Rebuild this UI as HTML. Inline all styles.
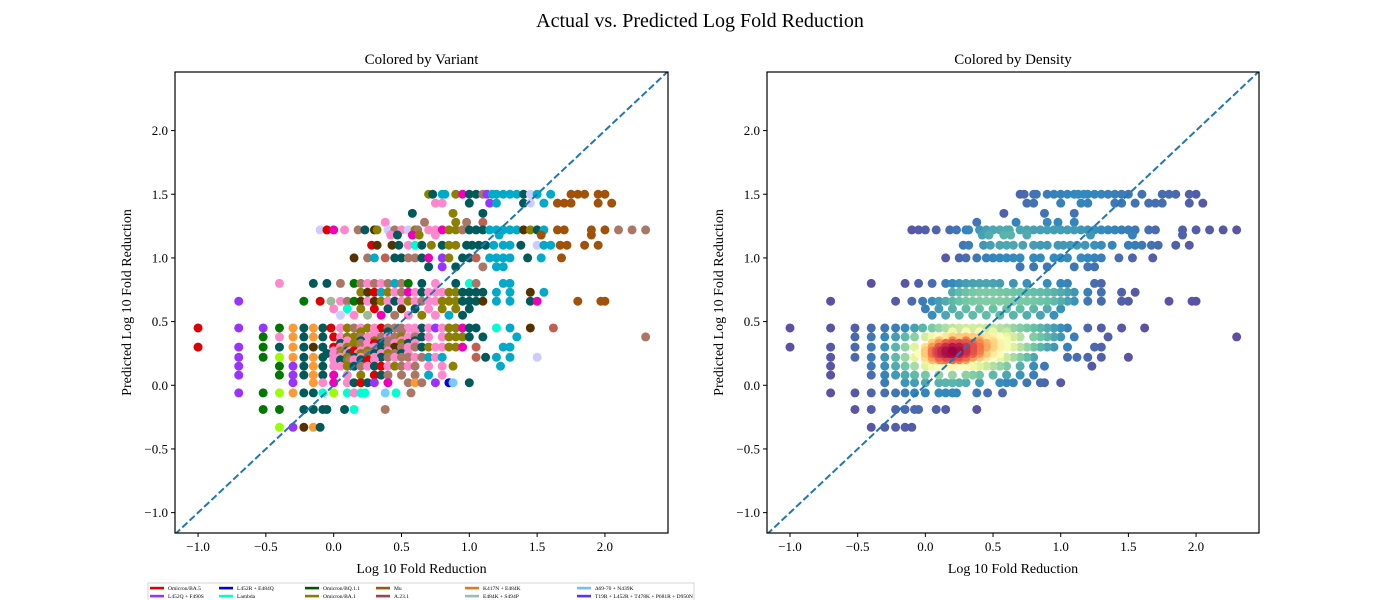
<!DOCTYPE html>
<html><head><meta charset="utf-8">
<style>
html,body{margin:0;padding:0;background:#fff;}
svg{display:block;font-family:"Liberation Serif","DejaVu Serif",serif;}
</style></head>
<body>
<svg id="chart" width="1400" height="600" viewBox="0 0 1400 600" xmlns="http://www.w3.org/2000/svg">
<text x="700" y="27" font-size="20" text-anchor="middle">Actual vs. Predicted Log Fold Reduction</text>
<text x="421.5" y="64" font-size="15" text-anchor="middle">Colored by Variant</text>
<text x="1013" y="64" font-size="15" text-anchor="middle">Colored by Density</text>
<g id="left"></g>
<g id="right"></g>
<g id="legend"></g>
</svg>
<script>
const variantNames = ["Omicron/BA.5","L452Q + F490S","L452R + E484Q","Lambda","Omicron/BQ.1.1","Omicron/BA.1","Mu","A.23.1","K417N + E484K","E484K + S494P","Δ69-70 + N439K","T19R + L452R + T478K + P681R + D950N"];
const legendColors = ["#dd0000","#9933ff","#0000dd","#00ffcc","#005500","#8b7d00","#a0520a","#a04050","#e07820","#99bbbb","#77bbff","#5533ff"];
const palette = ["#dd0000","#9933ff","#0000dd","#00ffd0","#007700","#8b8000","#a0520a","#c06050","#ff9933","#99bb99","#77ccff","#5533ff","#005a5a","#00aac8","#ff88cc","#aa7766","#99ff00","#ee00bb","#553300","#ccccff"];
const xTicks = [-1.0,-0.5,0.0,0.5,1.0,1.5,2.0];
const yTicks = [-1.0,-0.5,0.0,0.5,1.0,1.5,2.0];
const rowY = [1.5,1.43,1.35,1.28,1.22,1.18,1.1,1.0,0.93,0.8,0.73,0.66,0.6,0.55,0.45,0.42,0.38,0.35,0.33,0.3,0.27,0.25,0.22,0.2,0.15,0.08,0.02,-0.06,-0.19,-0.33];
const rowX = [
[0.7,0.73,0.8,0.82,0.9,0.95,1.0,1.05,1.1,1.13,1.17,1.2,1.25,1.3,1.35,1.4,1.45,1.5,1.6,1.75,1.8,1.85,1.95,2.0],
[0.75,0.8,1.0,1.15,1.2,1.4,1.45,1.55,1.65,1.7,1.75,1.95,2.05],
[0.58,0.88,1.1],
[0.38,0.67,0.9,0.98,1.1],
[-0.1,-0.05,0,0.08,0.18,0.23,0.3,0.32,0.4,0.45,0.5,0.55,0.6,0.62,0.7,0.75,0.8,0.85,0.9,0.95,1.0,1.05,1.1,1.15,1.2,1.25,1.3,1.35,1.4,1.45,1.5,1.55,1.65,1.7,1.9,2.0,2.1,2.2,2.3],
[0.42,0.47,0.58,0.63,0.75,1.22,1.53,1.9],
[0.28,0.32,0.43,0.48,0.55,0.6,0.65,0.72,0.8,0.85,0.9,0.98,1.02,1.07,1.12,1.18,1.25,1.3,1.38,1.5,1.55,1.6,1.67,1.72,1.85,1.95],
[0.15,0.25,0.3,0.38,0.45,0.5,0.55,0.6,0.65,0.7,0.8,0.85,0.95,1.0,1.05,1.15,1.2,1.25,1.3,1.43,1.53,1.68],
[0.7,0.8,0.9,1.1,1.2,1.25],
[-0.4,-0.15,-0.05,0.05,0.15,0.2,0.25,0.3,0.35,0.4,0.45,0.5,0.55,0.65,0.75,0.9,1.0,1.05,1.25,1.3],
[0.2,0.25,0.3,0.35,0.4,0.45,0.5,0.55,0.6,0.65,0.7,0.75,0.8,0.85,0.9,0.95,1.0,1.05,1.1,1.2,1.3,1.45,1.55],
[-0.7,-0.22,-0.1,-0.02,0.05,0.1,0.15,0.2,0.25,0.3,0.35,0.4,0.45,0.5,0.55,0.6,0.65,0.7,0.75,0.8,0.85,0.9,0.95,1.0,1.05,1.1,1.2,1.3,1.45,1.5,1.8,1.97,2.0],
[0.0,0.1,0.2,0.3,0.4,0.5,0.6,0.7,0.8,0.9,1.0],
[0.05,0.15,0.25,0.35,0.45,0.55,0.65,0.75,0.85,0.95],
[-1.0,-0.7,-0.52,-0.4,-0.3,-0.22,-0.15,-0.08,-0.02,0.05,0.1,0.15,0.2,0.25,0.3,0.35,0.4,0.45,0.5,0.55,0.6,0.65,0.7,0.75,0.8,0.85,0.9,0.95,1.0,1.05,1.2,1.3,1.45,1.62],
[0.2,0.3,0.4,0.5,0.6],
[-0.52,-0.4,-0.3,-0.22,-0.15,-0.08,0.0,0.05,0.1,0.15,0.2,0.25,0.3,0.35,0.4,0.45,0.5,0.55,0.6,0.65,0.7,0.8,0.85,0.9,0.95,1.0,1.1,1.35,2.3],
[0.1,0.2,0.3,0.4,0.5,0.6],
[0.05,0.1,0.15,0.2,0.25,0.3,0.35,0.4,0.45,0.5,0.55,0.6],
[-1.0,-0.7,-0.52,-0.4,-0.3,-0.22,-0.15,-0.08,0.0,0.05,0.1,0.15,0.2,0.25,0.3,0.35,0.4,0.45,0.5,0.55,0.6,0.65,0.7,0.75,0.8,0.85,0.9,0.95,1.05,1.25,1.3],
[0,0.05,0.08,0.1,0.12,0.15,0.2,0.25,0.3,0.35,0.4],
[-0.05,0,0.05,0.08,0.1,0.12,0.15,0.18,0.2,0.25,0.3,0.35,0.4,0.45,0.5,0.55],
[-0.7,-0.52,-0.4,-0.3,-0.22,-0.15,-0.08,0,0.05,0.1,0.15,0.2,0.25,0.3,0.35,0.4,0.45,0.5,0.55,0.6,0.65,0.7,0.75,0.8,1.05,1.12,1.2,1.3,1.5],
[0.0,0.05,0.1,0.12,0.15,0.2,0.25,0.3],
[-0.7,-0.4,-0.3,-0.22,-0.15,-0.08,0,0.05,0.1,0.15,0.2,0.25,0.3,0.35,0.4,0.45,0.5,0.55,0.6,0.7,0.8,0.88,1.23],
[-0.7,-0.4,-0.3,-0.22,-0.15,-0.08,0,0.1,0.2,0.3,0.35,0.4,0.5,0.6,0.7,0.8],
[-0.3,-0.15,-0.08,0,0.1,0.15,0.2,0.25,0.3,0.4,0.55,0.6,0.65,0.75,0.85,0.88,1.0],
[-0.7,-0.52,-0.4,-0.3,-0.22,-0.15,-0.08,0,0.1,0.15,0.2,0.23,0.38,0.46,0.57],
[-0.52,-0.4,-0.22,-0.15,-0.08,-0.05,0.08,0.15,0.38],
[-0.4,-0.3,-0.22,-0.15,-0.1]
];
const rowV = [
[5,12,13,13,5,17,12,12,15,1,13,13,13,13,13,12,19,13,13,6,6,6,6,6],
[14,14,12,1,13,12,19,13,6,6,6,6,6],
[12,5,12],
[14,15,5,15,7],
[19,0,17,14,15,12,18,5,19,15,14,19,5,15,14,14,17,5,5,15,12,12,12,13,13,13,13,13,18,5,12,13,6,6,6,6,15,15,15],
[14,12,17,5,14,13,6,6],
[0,18,18,12,14,3,12,5,12,5,5,12,12,12,12,13,13,13,12,19,13,13,6,6,6,6],
[18,15,13,7,12,12,15,15,12,17,1,5,12,12,7,13,13,13,13,12,13,6],
[12,1,12,15,13,13],
[14,12,12,15,4,15,14,15,14,15,13,15,4,12,14,12,3,15,13,13],
[5,18,0,13,5,14,15,17,14,12,14,14,14,5,5,12,12,12,12,13,13,18,13],
[1,4,0,9,14,15,4,18,14,18,5,14,12,14,5,14,15,14,14,5,5,5,12,12,12,18,13,13,12,17,6,6,6],
[14,3,5,0,12,18,12,14,5,5,12],
[19,14,9,17,15,14,5,14,13,12],
[0,1,1,4,8,12,8,12,0,14,5,15,14,5,14,0,15,15,15,14,14,12,14,1,14,5,5,17,12,12,3,13,18,7],
[5,14,12,15,14],
[4,14,8,12,8,12,0,14,5,5,15,14,14,15,14,15,5,14,15,12,14,14,5,5,5,12,12,13,15],
[14,12,5,15,14,12],
[12,14,5,15,14,0,12,15,14,5,12,14],
[0,1,4,12,8,12,18,12,0,14,5,5,15,14,14,12,15,18,15,14,15,12,5,14,14,5,5,17,7,13,13],
[14,5,15,12,14,0,14,5,15,12,14],
[12,14,15,5,14,12,0,14,5,15,12,14,5,15,12,14],
[1,4,16,8,12,8,12,14,14,5,12,14,5,14,12,15,14,15,15,14,15,13,14,13,7,12,13,13,19],
[14,12,5,15,14,12,0,14],
[1,4,1,12,8,12,14,14,5,12,15,14,12,0,14,5,15,14,15,14,14,5,13],
[1,4,1,12,8,12,17,14,5,0,12,15,15,15,13,14],
[1,8,14,17,14,12,0,12,1,17,15,8,15,1,2,10,12],
[1,4,16,8,12,12,3,16,3,14,3,3,10,3,15],
[4,4,12,12,12,12,12,3,15],
[16,1,18,8,12]
];

const NS = "http://www.w3.org/2000/svg";
const XMIN=-1.17, XMAX=2.465, YMIN=-1.16, YMAX=2.46;
function mk(tag, attrs, parent){const e=document.createElementNS(NS,tag);for(const k in attrs)e.setAttribute(k,attrs[k]);parent.appendChild(e);return e;}

const pts=[];
for(let r=0;r<rowY.length;r++){for(let i=0;i<rowX[r].length;i++){pts.push({x:rowX[r][i],y:rowY[r],v:rowV[r][i]});}}

const hx=0.15, hy=0.08;
for(const p of pts){let s=0;for(const q of pts){const dx=(p.x-q.x)/hx, dy=(p.y-q.y)/hy;s+=Math.exp(-0.5*(dx*dx+dy*dy));}p.d=s;}
const dmax=Math.max(...pts.map(p=>p.d)), dmin=Math.min(...pts.map(p=>p.d));
const spectral=["#5e4fa2","#3288bd","#66c2a5","#abdda4","#e6f598","#ffffbf","#fee08b","#fdae61","#f46d43","#d53e4f","#9e0142"];
function hex(c){return [parseInt(c.slice(1,3),16),parseInt(c.slice(3,5),16),parseInt(c.slice(5,7),16)];}
function cmap(t){t=Math.max(0,Math.min(1,t))*10;const i=Math.min(9,Math.floor(t)),f=t-i;const a=hex(spectral[i]),b=hex(spectral[i+1]);return "rgb("+a.map((v,k)=>Math.round(v+(b[k]-v)*f)).join(",")+")";}

function panel(g, L, R, T, B, mode, ylabX){
  const sx=v=>L+(v-XMIN)/(XMAX-XMIN)*(R-L);
  const sy=v=>B-(v-YMIN)/(YMAX-YMIN)*(B-T);
  const clipId="clip"+mode;
  const cp=mk("clipPath",{id:clipId},g);mk("rect",{x:L,y:T,width:R-L,height:B-T},cp);
  const pg=mk("g",{"clip-path":"url(#"+clipId+")"},g);
  let list=pts.slice();
  if(mode==="density") list.sort((a,b)=>a.d-b.d);
  for(const p of list){
    const col = mode==="density" ? cmap(Math.pow((p.d-dmin)/(dmax-dmin),1.45)) : palette[p.v];
    const c=mk("circle",{cx:sx(p.x),cy:sy(p.y),r:4.5,fill:col},pg);
    
    
  }
  const ln=mk("line",{x1:sx(XMIN),y1:sy(XMIN),x2:sx(XMAX),y2:sy(XMAX),stroke:"#1f77b4","stroke-width":2,"stroke-dasharray":"7,3"},pg);
  
  
  const fr=mk("rect",{x:L,y:T,width:R-L,height:B-T,fill:"none",stroke:"#000","stroke-width":1.2},g);
  
  
  for(const t of xTicks){
    const x=sx(t);
    mk("line",{x1:x,y1:B,x2:x,y2:B+4,stroke:"#000","stroke-width":1},g);
    const tx=mk("text",{x:x,y:B+18,"font-size":13,"text-anchor":"middle"},g);
    tx.textContent=(t<0?"\u2212":"")+Math.abs(t).toFixed(1);
    
    
  }
  for(const t of yTicks){
    const y=sy(t);
    mk("line",{x1:L-4,y1:y,x2:L,y2:y,stroke:"#000","stroke-width":1},g);
    const ty=mk("text",{x:L-7,y:y+4.5,"font-size":13,"text-anchor":"end"},g);
    ty.textContent=(t<0?"\u2212":"")+Math.abs(t).toFixed(1);
    
    
  }
  const xl=mk("text",{x:(L+R)/2,y:B+40,"font-size":14,"text-anchor":"middle"},g);
  xl.textContent="Log 10 Fold Reduction";
  
  
  const yl=mk("text",{x:0,y:0,"font-size":14,"text-anchor":"middle",transform:"translate("+ylabX+","+((T+B)/2)+") rotate(-90)"},g);
  yl.textContent="Predicted Log 10 Fold Reduction";
  
  
}
panel(document.getElementById("left"),175,668,72,533,"variant",131);
panel(document.getElementById("right"),767,1259,72,533,"density",723);

const lg=document.getElementById("legend");
const box=mk("rect",{x:148,y:583,width:546,height:20,fill:"#fff",stroke:"#ccc","stroke-width":0.8},lg);


const colX=[150,219,305,376,465,577];
for(let i=0;i<variantNames.length;i++){
  const col=Math.floor(i/2), row=i%2;
  const x=colX[col], y=588+row*8;
  const g=mk("g",{},lg);
  
  
  mk("rect",{x:x,y:y-1.2,width:14,height:2.6,fill:legendColors[i]},g);
  const t=mk("text",{x:x+18,y:y+2,"font-size":5.5},g);
  t.textContent=variantNames[i];
}
</script>
</body></html>
